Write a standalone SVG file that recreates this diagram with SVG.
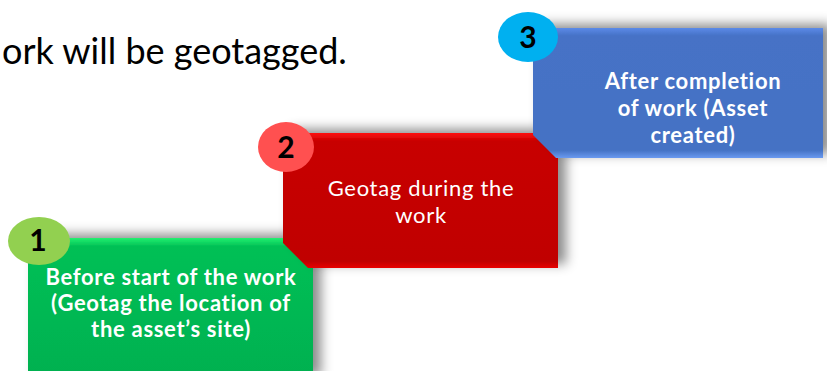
<svg xmlns="http://www.w3.org/2000/svg" width="827" height="371" viewBox="0 0 827 371">
  <defs>
    <filter id="sh" x="-20%" y="-30%" width="140%" height="160%">
      <feDropShadow dx="8" dy="-4" stdDeviation="6" flood-color="#000" flood-opacity="0.45"/>
    </filter>
    <linearGradient id="gGreen" x1="0" y1="0" x2="0" y2="1">
      <stop offset="0" stop-color="#22f070"/>
      <stop offset="0.06" stop-color="#00c055"/>
      <stop offset="1" stop-color="#00b050"/>
    </linearGradient>
    <linearGradient id="gRed" x1="0" y1="0" x2="0" y2="1">
      <stop offset="0" stop-color="#ff1010"/>
      <stop offset="0.06" stop-color="#c80000"/>
      <stop offset="0.95" stop-color="#c00000"/>
      <stop offset="1" stop-color="#e80000"/>
    </linearGradient>
    <linearGradient id="gBlue" x1="0" y1="0" x2="0" y2="1">
      <stop offset="0" stop-color="#5b8ae8"/>
      <stop offset="0.06" stop-color="#4672c6"/>
      <stop offset="0.94" stop-color="#4472c4"/>
      <stop offset="1" stop-color="#6a9af0"/>
    </linearGradient>
    <style>
      .num { font-family: Lato, "Open Sans", "Liberation Sans", sans-serif; font-weight: bold; font-size: 30px; fill: #000; text-anchor: middle; }
      .lbl { font-family: Lato, "Open Sans", "Liberation Sans", sans-serif; fill: #fff; text-anchor: middle; font-size: 22px; letter-spacing: 0.7px; }
      .b { font-weight: bold; }
    </style>
  </defs>

  <text x="2" y="64" font-family="Lato, 'Open Sans', 'Liberation Sans', sans-serif" font-size="36" fill="#000">ork will be geotagged.</text>

  <g id="node1">
    <polygon points="28,238 313,238 313,380 28,380" fill="url(#gGreen)" filter="url(#sh)"/>
    <text class="lbl b"><tspan x="171" y="285">Before start of the work</tspan><tspan x="171" y="311">(Geotag the location of</tspan><tspan x="171" y="337">the asset’s site)</tspan></text>
  </g>

  <g id="node2">
    <polygon points="283,133 558,133 558,268 308,268 283,243" fill="url(#gRed)" filter="url(#sh)"/>
    <text class="lbl"><tspan x="421" y="196">Geotag during the</tspan><tspan x="421" y="223">work</tspan></text>
  </g>

  <g id="node3">
    <polygon points="533,28 823,28 823,158 556,158 533,135" fill="url(#gBlue)" filter="url(#sh)"/>
    <text class="lbl b"><tspan x="693" y="89">After completion</tspan><tspan x="693" y="116">of work (Asset</tspan><tspan x="693" y="143">created)</tspan></text>
  </g>

  <g id="badge1">
    <ellipse cx="39" cy="241" rx="31" ry="24" fill="#92d050"/>
    <text class="num" x="38" y="251">1</text>
  </g>
  <g id="badge2">
    <ellipse cx="286" cy="147" rx="28" ry="25" fill="#ff5050"/>
    <text class="num" x="286" y="158">2</text>
  </g>
  <g id="badge3">
    <ellipse cx="528" cy="37" rx="30" ry="25" fill="#00b0f0"/>
    <text class="num" x="528" y="48">3</text>
  </g>

  <g id="connectors"></g>
</svg>
